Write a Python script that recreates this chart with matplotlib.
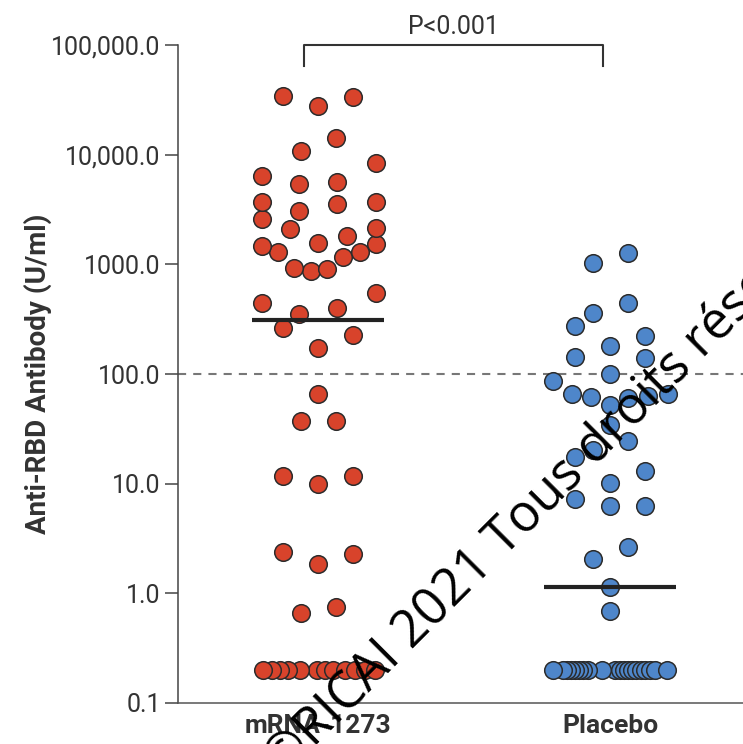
import numpy as np
import matplotlib
matplotlib.use('Agg')
import matplotlib.pyplot as plt
import matplotlib.transforms as mtransforms

## data
groups = ['mRNA-1273', 'Placebo']

# mRNA-1273: antibody level (U/ml) and horizontal swarm offset (category units)
mrna_vals = [34300, 27800, 33600, 14200, 10800, 8400, 6400, 5410, 5640,
             3710, 3070, 3550, 3710, 2590, 2100, 1820, 2150, 1470, 1300,
             1570, 1300, 1530, 1170, 927, 870, 908, 548, 445, 353, 401,
             263, 227, 173, 65.9, 37.4, 37.4, 11.8, 9.96, 11.8, 2.39, 1.86,
             2.29, 0.664, 0.753,
             0.2, 0.2, 0.2, 0.2, 0.2, 0.2, 0.2, 0.2, 0.2, 0.2, 0.2, 0.2]
mrna_off = [-0.12, 0.0, 0.12, 0.062, -0.058, 0.199, -0.192, -0.065, 0.065,
            -0.192, -0.065, 0.065, 0.199, -0.192, -0.096, 0.099, 0.199,
            -0.192, -0.137, 0.0, 0.144, 0.199, 0.086, -0.082, -0.024, 0.031,
            0.199, -0.192, -0.065, 0.065, -0.12, 0.12, 0.0, 0.0, -0.058,
            0.062, -0.12, 0.0, 0.12, -0.12, 0.0, 0.12, -0.058, 0.062,
            -0.188, -0.158, -0.130, -0.103, -0.062, -0.003, 0.024, 0.051,
            0.092, 0.127, 0.161, 0.195]

# Placebo
plac_vals = [1270, 1030, 445, 361, 274, 222, 180, 143, 140, 100, 86.5,
             65.9, 61.8, 52.3, 60.5, 63.2, 65.9, 34.4, 24.5, 20.3, 17.5,
             13.1, 10.2, 7.26, 6.28, 6.28, 2.65, 2.07, 1.15, 0.69,
             0.2, 0.2, 0.2, 0.2, 0.2, 0.2, 0.2, 0.2, 0.2, 0.2,
             0.2, 0.2, 0.2, 0.2, 0.2, 0.2, 0.2, 0.2, 0.2, 0.2]
plac_off = [0.062, -0.058, 0.062, -0.058, -0.12, 0.12, 0.0, -0.12, 0.12,
            0.0, -0.195, -0.13, -0.065, 0.0, 0.062, 0.13, 0.199, 0.0,
            0.062, -0.058, -0.12, 0.12, 0.0, -0.12, 0.0, 0.12, 0.062,
            -0.058, 0.0, 0.0,
            -0.195, -0.161, -0.147, -0.134, -0.120, -0.106, -0.092, -0.075,
            -0.027, 0.017, 0.034, 0.048, 0.062, 0.075, 0.089, 0.106, 0.120,
            0.137, 0.154, 0.195]

# horizontal bars (group summary level)
medians = [310, 1.15]

yticks = [0.1, 1, 10, 100, 1000, 10000, 100000]
ytick_labels = ['0.1', '1.0', '10.0', '100.0', '1000.0', '10,000.0',
                '100,000.0']
threshold = 100
p_text = 'P<0.001'
watermark = '\u00a9RICAI 2021 Tous droits r\u00e9serv\u00e9s'

red = '#D8432B'
blue = '#4E86CA'
edge = '#2b2b2b'
txt = '#333333'

plt.rcParams['font.family'] = ['Roboto', 'DejaVu Sans']

fig = plt.figure(figsize=(7.43, 7.44), dpi=100)
ax = fig.add_axes([178/743, 41/744, 565/743, 658/744])
ax.set_yscale('log')
ax.set_ylim(0.1, 1e5)
ax.set_xlim(-0.48, 1.455)

ax.axhline(threshold, color='#777777', lw=1.5, dashes=(3.9, 3.4), zorder=1)

for i, (vals, off, col) in enumerate([(mrna_vals, mrna_off, red),
                                      (plac_vals, plac_off, blue)]):
    vals = np.array(vals)
    off = np.array(off)
    # points farther from centre on top, like the original layering
    order = np.argsort(np.abs(off))
    ax.scatter(i + off[order], vals[order], s=160, c=col,
               edgecolors=edge, linewidths=1.1, zorder=3)
    ax.plot([i - 0.225, i + 0.225], [medians[i], medians[i]],
            color='#222222', lw=3, solid_capstyle='butt', zorder=4)

ax.set_xticks([0, 1])
ax.set_xticklabels(groups, fontsize=19, fontweight='bold', color=txt)
ax.tick_params(axis='x', length=0, pad=8)
ax.set_yticks(yticks)
ax.set_yticklabels(ytick_labels, fontsize=18, color=txt)
ax.yaxis.set_minor_locator(matplotlib.ticker.NullLocator())
ax.tick_params(axis='y', length=9.5, width=1.1, color='#444444', pad=3)

ax.set_ylabel('Anti-RBD Antibody (U/ml)', fontsize=20, fontweight='bold',
              color=txt)
ax.yaxis.set_label_coords(-0.223, 0.5)

for s in ['top', 'right']:
    ax.spines[s].set_visible(False)
ax.spines['left'].set_color('#444444')
ax.spines['left'].set_linewidth(1.1)
ax.spines['bottom'].set_color('#555555')
ax.spines['bottom'].set_linewidth(1.1)

# significance bracket
ax.plot([-0.048, -0.048, 0.976, 0.976], [6.4e4, 1e5, 1e5, 6.4e4],
        color='#333333', lw=1.5, clip_on=False, zorder=5)
trans = mtransforms.blended_transform_factory(ax.transData, ax.transAxes)
ax.text(0.464, 1.016, p_text, transform=trans, ha='center', va='baseline',
        fontsize=18, color=txt)

fig.text(555/743, 1 - 488/744, watermark, rotation=45, rotation_mode='anchor',
         ha='center', va='center', fontsize=37, family='Open Sans',
         color='black', zorder=10)

fig.savefig('out.png', dpi=100)
